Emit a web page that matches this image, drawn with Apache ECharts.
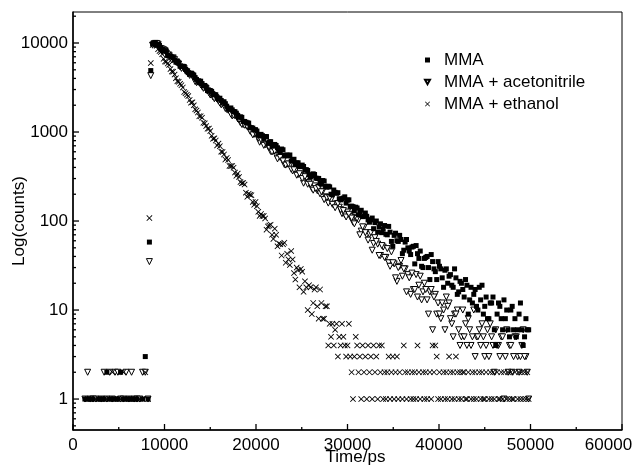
<!DOCTYPE html>
<html>
<head>
<meta charset="utf-8">
<title>Fluorescence decay</title>
<script src="https://cdn.jsdelivr.net/npm/echarts@6/dist/echarts.min.js"></script>
<style>
  html, body { margin: 0; padding: 0; background: #fff; }
  #main { width: 634px; height: 473px; }
</style>
</head>
<body>
<div id="main"></div>
<script>
// channels before the rise (ps) and counts per sample
const preTime = [1300, 1600, 1900, 2200, 2500, 2800, 3100, 3400, 3700, 4000, 4300, 4600, 4900,
  5200, 5500, 5800, 6100, 6400, 6700, 7000, 7300, 7600, 7900, 8200, 8350, 8500];
const mmaPre = [1, 1, 1, 1, 0, 1, 1, 1, 2, 1, 1, 1, 1, 2, 1, 1, 1, 1, 1, 1, 0, 1, 3, 1, 58, 4900];
const acnPre = [1, 2, 1, 1, 1, 0, 1, 2, 1, 2, 1, 2, 2, 1, 1, 2, 1, 2, 1, 1, 1, 2, 2, 1, 35, 4300];
const ethPre = [0, 1, 1, 0, 1, 1, 1, 1, 1, 1, 2, 1, 1, 1, 2, 1, 1, 1, 1, 0, 1, 1, 2, 1, 108, 5950];

// decay channels (ps)
const decayTime = [
  8700, 9000, 9300, 9600, 9900, 10200, 10500, 10800, 11100, 11400,
  11700, 12000, 12300, 12600, 12900, 13200, 13500, 13800, 14100, 14400,
  14700, 15000, 15300, 15600, 15900, 16200, 16500, 16800, 17100, 17400,
  17700, 18000, 18300, 18600, 18900, 19200, 19500, 19800, 20100, 20400,
  20700, 21000, 21300, 21600, 21900, 22200, 22500, 22800, 23100, 23400,
  23700, 24000, 24300, 24600, 24900, 25200, 25500, 25800, 26100, 26400,
  26700, 27000, 27300, 27600, 27900, 28200, 28500, 28800, 29100, 29400,
  29700, 30000, 30300, 30600, 30900, 31200, 31500, 31800, 32100, 32400,
  32700, 33000, 33300, 33600, 33900, 34200, 34500, 34800, 35100, 35400,
  35700, 36000, 36300, 36600, 36900, 37200, 37500, 37800, 38100, 38400,
  38700, 39000, 39300, 39600, 39900, 40200, 40500, 40800, 41100, 41400,
  41700, 42000, 42300, 42600, 42900, 43200, 43500, 43800, 44100, 44400,
  44700, 45000, 45300, 45600, 45900, 46200, 46500, 46800, 47100, 47400,
  47700, 48000, 48300, 48600, 48900, 49200, 49500, 49800];

const mmaCounts = [
  9750, 10100, 9620, 8860, 8175, 8150, 7130, 6970, 6430, 6280,
  5475, 5470, 5047, 4642, 4577, 4351, 3900, 3587, 3496, 3335,
  2922, 2927, 2677, 2623, 2336, 2262, 2189, 1950, 1804, 1775,
  1692, 1535, 1481, 1315, 1289, 1259, 1118, 1061, 1026, 905,
  910, 891, 744, 779, 715, 705, 625, 644, 548, 551,
  552, 491, 432, 451, 408, 410, 378, 332, 322, 333,
  301, 265, 285, 245, 246, 200, 223, 205, 178, 177,
  187, 172, 146, 145, 143, 117, 132, 114, 113, 97,
  108, 96, 75, 93, 81, 71, 87, 59, 69, 60,
  69, 43, 58, 50, 42, 52, 53, 38, 31, 38,
  40, 22, 35, 27, 35, 29, 18, 29, 24, 19,
  29, 15, 21, 17, 22, 9, 18, 15, 11, 18,
  19, 11, 8, 12, 14, 4, 12, 8, 13, 10,
  5, 11, 8, 6, 12, 4, 8, 6];

const acnCounts = [
  9450, 9900, 9675, 8612, 8385, 7668, 7310, 6441, 6505, 5969,
  5389, 5313, 4830, 4482, 4440, 4002, 3590, 3562, 3248, 3152,
  2908, 2603, 2476, 2445, 2224, 2020, 1997, 1794, 1726, 1516,
  1522, 1404, 1269, 1214, 1192, 1103, 985, 942, 908, 768,
  817, 717, 693, 606, 640, 543, 525, 509, 431, 435,
  423, 365, 366, 332, 323, 266, 300, 270, 233, 248,
  219, 202, 216, 187, 159, 172, 153, 156, 143, 121,
  118, 126, 112, 97, 109, 103, 77, 85, 70, 71,
  47, 65, 55, 41, 51, 39, 34, 45, 33, 21,
  31, 24, 29, 25, 15, 17, 25, 19, 13, 20,
  13, 16, 6, 15, 12, 8, 10, 14, 12, 7,
  9, 10, 4, 10, 7, 8, 4, 10, 5, 6,
  7, 3, 6, 7, 4, 6, 4, 5, 1, 6,
  4, 2, 5, 3, 3, 6, 3, 1];

// ethanol decays faster: only the first part of decayTime
const ethDecay = [
  9500, 9700, 8517, 7899, 6638, 6161, 5678, 4773, 4416, 3707,
  3474, 3164, 2732, 2534, 2137, 1994, 1743, 1504, 1450, 1253,
  1088, 1024, 838, 803, 741, 602, 559, 511, 416, 415,
  350, 341, 274, 268, 208, 203, 195, 152, 147, 114,
  114, 107, 87, 91, 63, 70, 56, 41, 57, 43,
  32, 37, 22, 28, 29, 16, 18, 19, 9, 17,
  11, 17, 8, 11, 4];

// in-between channels (half way between the decay channels)
const midTime = [
  8850, 9150, 9450, 9750, 10050, 10350, 10650, 10950, 11250, 11550,
  11850, 12150, 12450, 12750, 13050, 13350, 13650, 13950, 14250, 14550,
  14850, 15150, 15450, 15750, 16050, 16350, 16650, 16950, 17250, 17550,
  17850, 18150, 18450, 18750, 19050, 19350, 19650, 19950, 20250, 20550,
  20850, 21150, 21450, 21750, 22050, 22350, 22650, 22950, 23250, 23550,
  23850, 24150, 24450, 24750, 25050, 25350, 25650, 25950, 26250, 26550,
  26850, 27150, 27450, 27750, 28050, 28350, 28650, 28950, 29250, 29550,
  29850, 30150, 30450, 30750, 31050, 31350, 31650, 31950, 32250, 32550,
  32850, 33150, 33450, 33750, 34050, 34350, 34650, 34950, 35250, 35550,
  35850, 36150, 36450, 36750, 37050, 37350, 37650, 37950, 38250, 38550,
  38850, 39150, 39450, 39750, 40050, 40350, 40650, 40950, 41250, 41550,
  41850, 42150, 42450, 42750, 43050, 43350, 43650, 43950, 44250, 44550,
  44850, 45150, 45450, 45750, 46050, 46350, 46650, 46950, 47250, 47550,
  47850, 48150, 48450, 48750, 49050, 49350, 49650];

const mmaMid = [
  9950, 9461, 9438, 8483, 8189, 7242, 7146, 6855, 6085, 5966,
  5439, 5439, 4863, 4445, 4411, 4071, 3712, 3725, 3317, 3194,
  2868, 2863, 2627, 2417, 2397, 2154, 2080, 1838, 1863, 1695,
  1627, 1465, 1462, 1314, 1268, 1122, 1107, 1062, 926, 941,
  847, 888, 774, 699, 725, 665, 599, 632, 547, 539,
  472, 494, 450, 411, 425, 373, 370, 315, 339, 303,
  301, 259, 281, 240, 242, 198, 210, 208, 173, 181,
  159, 173, 147, 130, 140, 127, 112, 123, 103, 103,
  82, 100, 86, 74, 89, 70, 75, 52, 73, 59,
  62, 47, 62, 46, 51, 33, 43, 46, 30, 39,
  30, 42, 29, 22, 31, 23, 28, 20, 25, 18,
  23, 16, 20, 14, 19, 13, 12, 17, 10, 13,
  9, 14, 8, 12, 6, 9, 11, 6, 8, 6,
  10, 6, 5, 9, 6, 5, 6];

const acnMid = [
  9780, 9880, 8711, 8540, 8189, 7331, 6782, 6802, 6095, 5793,
  5184, 5140, 4743, 4324, 4271, 3687, 3669, 3386, 3095, 3067,
  2756, 2651, 2366, 2346, 2113, 2081, 1837, 1762, 1586, 1550,
  1508, 1379, 1217, 1192, 1143, 1023, 929, 976, 849, 815,
  708, 729, 667, 597, 611, 499, 518, 473, 425, 438,
  382, 376, 327, 340, 300, 315, 259, 259, 222, 231,
  238, 213, 174, 183, 182, 154, 141, 157, 134, 131,
  111, 119, 108, 93, 107, 70, 86, 74, 61, 74,
  56, 59, 41, 53, 39, 49, 31, 34, 23, 30,
  36, 29, 16, 23, 26, 17, 14, 24, 16, 17,
  9, 17, 14, 9, 9, 12, 6, 11, 8, 5,
  9, 6, 5, 5, 4, 6, 5, 3, 5, 4,
  5, 4, 3, 5, 2, 4, 3, 5, 3, 2,
  4, 3, 5, 2, 4, 3, 2];

const ethMid = [
  9800, 9284, 8119, 7484, 6191, 5872, 5100, 4758, 4024, 3667,
  3351, 2814, 2627, 2289, 2155, 1800, 1656, 1504, 1271, 1166,
  1093, 906, 850, 706, 693, 598, 491, 485, 415, 398,
  322, 313, 265, 257, 187, 197, 164, 164, 127, 120,
  114, 80, 89, 70, 82, 52, 55, 55, 34, 37,
  46, 26, 30, 18, 27, 21, 10, 18, 12, 18,
  8, 12, 8, 11];

// ethanol background tail, 150 ps channels
const ethTailTime = [
  28050, 28200, 28350, 28500, 28650, 28800, 28950, 29100, 29250, 29400,
  29550, 29700, 29850, 30000, 30150, 30300, 30450, 30600, 30750, 30900,
  31050, 31200, 31350, 31500, 31650, 31800, 31950, 32100, 32250, 32400,
  32550, 32700, 32850, 33000, 33150, 33300, 33450, 33600, 33750, 33900,
  34050, 34200, 34350, 34500, 34650, 34800, 34950, 35100, 35250, 35400,
  35550, 35700, 35850, 36000, 36150, 36300, 36450, 36600, 36750, 36900,
  37050, 37200, 37350, 37500, 37650, 37800, 37950, 38100, 38250, 38400,
  38550, 38700, 38850, 39000, 39150, 39300, 39450, 39600, 39750, 39900,
  40050, 40200, 40350, 40500, 40650, 40800, 40950, 41100, 41250, 41400,
  41550, 41700, 41850, 42000, 42150, 42300, 42450, 42600, 42750, 42900,
  43050, 43200, 43350, 43500, 43650, 43800, 43950, 44100, 44250, 44400,
  44550, 44700, 44850, 45000, 45150, 45300, 45450, 45600, 45750, 45900,
  46050, 46200, 46350, 46500, 46650, 46800, 46950, 47100, 47250, 47400,
  47550, 47700, 47850, 48000, 48150, 48300, 48450, 48600, 48750, 48900,
  49050, 49200, 49350, 49500, 49650, 49800];
const ethTailCounts = [
  7, 5, 7, 4, 6, 7, 3, 5, 4, 7,
  5, 4, 3, 4, 7, 3, 2, 1, 3, 5,
  4, 2, 3, 1, 4, 2, 3, 1, 4, 2,
  3, 1, 4, 2, 3, 1, 4, 2, 4, 1,
  2, 1, 2, 3, 1, 2, 3, 1, 2, 3,
  1, 2, 0, 1, 4, 2, 1, 2, 0, 1,
  2, 1, 2, 1, 4, 2, 1, 0, 2, 1,
  2, 1, 0, 2, 1, 4, 2, 4, 3, 1,
  2, 1, 0, 2, 1, 2, 1, 3, 2, 1,
  2, 1, 3, 2, 1, 2, 1, 2, 2, 1,
  1, 2, 0, 1, 2, 1, 2, 1, 0, 2,
  1, 2, 1, 1, 2, 0, 1, 2, 1, 2,
  1, 0, 2, 1, 1, 2, 1, 2, 0, 1,
  2, 1, 2, 1, 1, 2, 0, 1, 2, 1,
  2, 1, 2, 1, 2, 1];

// tick values: x every 10000 with minor ticks between, y decades with 2..9 between
const xTicks = [0, 10000, 20000, 30000, 40000, 50000, 60000];
const xMinorTicks = [5000, 15000, 25000, 35000, 45000, 55000];
const yTicks = [1, 10, 100, 1000, 10000];
const yMinorTicks = [0.5, 0.6, 0.7, 0.8, 0.9, 2, 3, 4, 5, 6, 7, 8, 9,
  20, 30, 40, 50, 60, 70, 80, 90, 200, 300, 400, 500, 600, 700, 800, 900,
  2000, 3000, 4000, 5000, 6000, 7000, 8000, 9000, 20000];

const FONT = 'Liberation Sans, Arial, Helvetica, sans-serif';
const Y_MIN = 0.449;
const Y_MAX = 22300;

// zero counts cannot sit on a log axis
const pairs = (times, counts) =>
  times.map((t, i) => [t, counts[i]]).filter(p => p[1] > 0);

const mmaData = pairs(preTime, mmaPre)
  .concat(pairs(decayTime, mmaCounts), pairs(midTime, mmaMid));
const acnData = pairs(preTime, acnPre)
  .concat(pairs(decayTime, acnCounts), pairs(midTime, acnMid));
const ethData = pairs(preTime, ethPre)
  .concat(
    pairs(decayTime.slice(0, ethDecay.length), ethDecay),
    pairs(midTime.slice(0, ethMid.length), ethMid),
    pairs(ethTailTime, ethTailCounts));

// inward ticks, placed through the axes: [x, y, 0 = x axis / 1 = y axis, length]
const tickData = [].concat(
  xTicks.map(v => [v, Y_MIN, 0, 6]),
  xMinorTicks.map(v => [v, Y_MIN, 0, 3]),
  yTicks.map(v => [0, v, 1, 6]),
  yMinorTicks.map(v => [0, v, 1, 3]));

const renderTick = (params, api) => {
  const p = api.coord([api.value(0), api.value(1)]);
  const len = api.value(3);
  const shape = api.value(2) === 0
    ? { x1: p[0], y1: p[1], x2: p[0], y2: p[1] - len }
    : { x1: p[0], y1: p[1], x2: p[0] + len, y2: p[1] };
  return { type: 'line', shape: shape, style: { stroke: '#000', lineWidth: 1.3 } };
};

const crossPath = 'path://M0,1L1,0L5,4L9,0L10,1L6,5L10,9L9,10L5,6L1,10L0,9L4,5Z';
const triPath = 'path://M0,0L10,0L5,9Z';

// label only the decades, the axis ends stay blank
const decadeLabel = v => {
  const hit = yTicks.find(d => Math.abs(v - d) / d < 1e-6);
  return hit ? String(hit) : '';
};

const option = {
  animation: false,
  backgroundColor: '#fff',
  textStyle: { fontFamily: FONT, color: '#000' },
  grid: {
    left: 73, top: 12, width: 549, height: 418,
    containLabel: false,
    outerBoundsMode: 'none',
    show: true, borderColor: '#000', borderWidth: 1,
  },
  legend: {
    left: 419,
    top: 45,
    orient: 'vertical',
    itemWidth: 5,
    itemHeight: 5,
    itemGap: 2,
    data: ['MMA', 'MMA + acetonitrile', 'MMA + ethanol'],
    textStyle: { fontFamily: FONT, fontSize: 17, color: '#000', lineHeight: 20, padding: [0, 0, 0, 9] },
  },
  xAxis: {
    type: 'value',
    min: 0,
    max: 60000,
    interval: 10000,
    name: 'Time/ps',
    nameLocation: 'middle',
    nameGap: 19,
    nameMoveOverlap: false,
    nameTextStyle: { fontFamily: FONT, fontSize: 17, color: '#000', padding: [0, 0, 0, 16] },
    axisLine: { show: true, lineStyle: { color: '#000', width: 1.5 } },
    axisTick: { show: false },
    axisLabel: {
      fontFamily: FONT, fontSize: 17, color: '#000', margin: 7,
      formatter: v => (v === 60000 ? '{last|' + v + '}' : String(v)),
      rich: { last: { fontFamily: FONT, fontSize: 17, color: '#000', padding: [0, 27, 0, 0] } },
    },
    splitLine: { show: false },
  },
  yAxis: {
    type: 'log',
    logBase: 10,
    min: Y_MIN,
    max: Y_MAX,
    name: 'Log(counts)',
    nameLocation: 'middle',
    nameGap: 45,
    nameMoveOverlap: false,
    nameTextStyle: { fontFamily: FONT, fontSize: 17, color: '#000' },
    axisLine: { show: true, lineStyle: { color: '#000', width: 1.5 } },
    axisTick: { show: false },
    axisLabel: {
      fontFamily: FONT, fontSize: 17, color: '#000', margin: 5,
      formatter: decadeLabel,
    },
    splitLine: { show: false },
  },
  series: [
    {
      name: 'MMA + acetonitrile',
      type: 'scatter',
      z: 2,
      symbol: triPath,
      symbolSize: 6,
      itemStyle: { color: '#fff', borderColor: '#000', borderWidth: 1, opacity: 1 },
      data: acnData,
    },
    {
      name: 'MMA + ethanol',
      type: 'scatter',
      z: 3,
      symbol: crossPath,
      symbolSize: 6,
      itemStyle: { color: '#000', opacity: 1 },
      data: ethData,
    },
    {
      name: 'MMA',
      type: 'scatter',
      z: 4,
      symbol: 'rect',
      symbolSize: 5,
      itemStyle: { color: '#000', opacity: 1 },
      data: mmaData,
    },
    {
      name: 'ticks',
      type: 'custom',
      silent: true,
      clip: false,
      z: 10,
      renderItem: renderTick,
      data: tickData,
    },
  ],
};

const chart = echarts.init(document.getElementById('main'), null, { renderer: 'canvas' });
chart.setOption(option);
</script>
</body>
</html>
